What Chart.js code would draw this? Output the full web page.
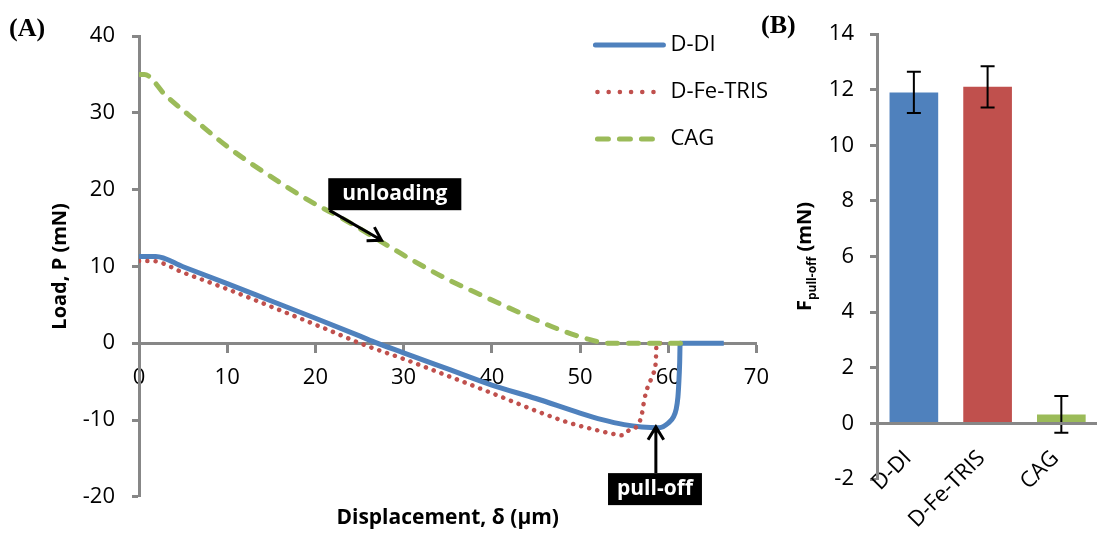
<!DOCTYPE html>
<html>
<head>
<meta charset="utf-8">
<script src="https://cdn.jsdelivr.net/npm/chart.js@4.4.1/dist/chart.umd.min.js"></script>
<style>
    html, body { margin: 0; padding: 0; background: #fff; }
    #wrap { position: relative; width: 1097px; height: 543px; overflow: hidden; }
    #loadChart { position: absolute; left: 0; top: 0; }
    #pullChart { position: absolute; left: 770px; top: 0; }
    .panel { position: absolute; font-family: 'Liberation Serif', serif; font-weight: bold; font-size: 26px; line-height: 1; }
</style>
</head>
<body>
<div id="wrap">
    <canvas id="loadChart" width="782" height="543"></canvas>
    <canvas id="pullChart" width="332" height="543"></canvas>
    <div class="panel" style="left:9px; top:15px;">(A)</div>
    <div class="panel" style="left:761px; top:12px;">(B)</div>
</div>
<script>
// 加载-位移曲线 (A)
const ddiX = [0, 1.9, 5, 10, 15, 20, 25, 27, 30, 35, 40, 45, 50, 52.5, 55, 57, 59, 60.0, 60.6, 60.9, 61.1, 61.2, 61.3, 61.35, 63, 66.3];
const ddiY = [11.3, 11.3, 9.95, 7.75, 5.5, 3.25, 0.95, 0.0, -1.25, -3.35, -5.45, -7.2, -9.1, -9.95, -10.6, -10.9, -11.0, -10.4, -9.6, -8.6, -7.0, -5.2, -2.5, 0, 0, 0];

const feTrisX = [0, 1.5, 5, 10, 15, 21, 25.5, 30, 35, 40, 45, 48.6, 51.8, 53.7, 54.7, 55.6, 56.6, 57.0, 57.3, 57.7, 58.3, 58.6, 58.65, 58.7, 60];
const feTrisY = [10.7, 10.7, 9.2, 7.05, 4.75, 1.94, -0.2, -2.05, -4.25, -6.5, -8.8, -10.3, -11.3, -11.8, -12.0, -11.3, -10.6, -9.3, -7.3, -5.6, -4.0, -2.2, -0.6, 0, 0];

const cagX = [0, 0.6, 3, 6.5, 10.25, 14.8, 19.4, 23.5, 28.5, 30.4, 34.5, 39.1, 44.1, 47.8, 51.25, 53.2, 62.6];
const cagY = [35, 35, 32.3, 28.9, 25.4, 21.8, 18.5, 15.95, 12.5, 11.2, 8.6, 6.1, 3.5, 1.72, 0.43, 0, 0];

const lineNames = ['D-DI', 'D-Fe-TRIS', 'CAG'];
const loadRange = [-20, 40, 10];      // min, max, step
const dispRange = [0, 70, 10];

// 脱附力柱状图 (B)
const barLabels = ['D-DI', 'D-Fe-TRIS', 'CAG'];
const pullOff = [11.9, 12.1, 0.32];
const pullOffErr = [0.74, 0.74, 0.66];
const pullRange = [-2, 14, 2];

const axisGrey = '#878787';
const seriesColors = ['#4F81BD', '#C0504D', '#9BBB59'];
const baseFont = 'Open Sans';

document.addEventListener('DOMContentLoaded', function() {
    initLoadChart();
    initPullChart();
});

function toPoints(xs, ys) {
    return xs.map((x, i) => ({ x: x, y: ys[i] }));
}

// 图内图例：直接画线型
const lineLegend = {
    id: 'lineLegend',
    afterDraw(chart) {
        const ctx = chart.ctx;
        const area = chart.chartArea;
        chart.data.datasets.forEach((ds, i) => {
            const y = area.top + 9 + i * 47;
            const dashed = ds.legendDash.length > 0;
            // 虚线端点留出圆头的宽度
            const x0 = area.right - (dashed ? 159 : 161);
            const x1 = area.right - (dashed ? 100 : 93);
            ctx.save();
            ctx.strokeStyle = ds.borderColor;
            ctx.lineWidth = ds.borderWidth;
            ctx.lineCap = 'round';
            ctx.setLineDash(ds.legendDash);
            ctx.beginPath();
            ctx.moveTo(x0, y);
            ctx.lineTo(x1, y);
            ctx.stroke();
            ctx.setLineDash([]);
            ctx.fillStyle = '#000';
            ctx.font = '22px "' + baseFont + '"';
            ctx.textBaseline = 'middle';
            ctx.fillText(ds.label, area.right - 86, y);
            ctx.restore();
        });
    }
};

// 黑底白字标注 + 箭头
const arrowNotes = {
    id: 'arrowNotes',
    afterDraw(chart, args, opts) {
        const ctx = chart.ctx;
        const sx = chart.scales.x;
        const sy = chart.scales.y;
        opts.notes.forEach(n => {
            const bx = sx.getPixelForValue(n.box[0]);
            const by = sy.getPixelForValue(n.box[1]);
            const fx = sx.getPixelForValue(n.from[0]);
            const fy = sy.getPixelForValue(n.from[1]);
            const tx = sx.getPixelForValue(n.to[0]);
            const ty = sy.getPixelForValue(n.to[1]);
            ctx.save();
            // 箭头
            ctx.strokeStyle = '#000';
            ctx.lineWidth = 3;
            ctx.beginPath();
            ctx.moveTo(fx, fy);
            ctx.lineTo(tx, ty);
            const ang = Math.atan2(ty - fy, tx - fx);
            const head = 15;
            ctx.moveTo(tx - head * Math.cos(ang - 0.55), ty - head * Math.sin(ang - 0.55));
            ctx.lineTo(tx, ty);
            ctx.lineTo(tx - head * Math.cos(ang + 0.55), ty - head * Math.sin(ang + 0.55));
            ctx.stroke();
            // 文字框
            ctx.font = 'bold 21px "' + baseFont + '"';
            const w = ctx.measureText(n.text).width + n.pad * 2;
            const h = 32;
            ctx.fillStyle = '#000';
            ctx.fillRect(bx - w / 2, by - h / 2, w, h);
            ctx.fillStyle = '#fff';
            ctx.textAlign = 'center';
            ctx.textBaseline = 'middle';
            ctx.fillText(n.text, bx, by);
            ctx.restore();
        });
    }
};

function initLoadChart() {
    const ctx = document.getElementById('loadChart').getContext('2d');
    const tickFont = { family: baseFont, size: 22 };

    const datasets = [
        {
            label: lineNames[0],
            data: toPoints(ddiX, ddiY),
            borderColor: seriesColors[0],
            borderWidth: 5,
            legendDash: [],
            order: 3
        },
        {
            label: lineNames[1],
            data: toPoints(feTrisX, feTrisY),
            borderColor: seriesColors[1],
            borderWidth: 4.5,
            borderDash: [0.1, 8.2],
            borderCapStyle: 'round',
            legendDash: [0.1, 11.1],
            order: 2
        },
        {
            label: lineNames[2],
            data: toPoints(cagX, cagY),
            borderColor: seriesColors[2],
            borderWidth: 5,
            borderDash: [10, 11],
            borderCapStyle: 'round',
            legendDash: [11, 11],
            order: 1
        }
    ];
    datasets.forEach(ds => {
        ds.pointRadius = 0;
        ds.fill = false;
        ds.cubicInterpolationMode = 'monotone';
    });

    new Chart(ctx, {
        type: 'line',
        data: { datasets: datasets },
        options: {
            responsive: false,
            animation: false,
            devicePixelRatio: 1,
            layout: { padding: { left: 0, right: 0, top: 36, bottom: 0 } },
            scales: {
                x: {
                    type: 'linear',
                    position: { y: 0 },
                    min: dispRange[0],
                    max: dispRange[1],
                    ticks: { stepSize: dispRange[2], color: '#000', font: tickFont, padding: 13 },
                    grid: { drawOnChartArea: false, tickLength: 8, tickWidth: 3, tickColor: axisGrey },
                    border: { color: axisGrey, width: 3 }
                },
                y: {
                    min: loadRange[0],
                    max: loadRange[1],
                    ticks: { stepSize: loadRange[2], color: '#000', font: tickFont, padding: 17 },
                    grid: { drawOnChartArea: false, tickLength: 7, tickWidth: 3, tickColor: axisGrey },
                    border: { color: axisGrey, width: 3 },
                    title: {
                        display: true,
                        text: 'Load, P (mN)',
                        color: '#000',
                        font: { family: baseFont, size: 20, weight: 'bold' },
                        padding: { top: 48, bottom: 0 }
                    },
                    afterFit(scale) { scale.width = 139; }
                }
            },
            plugins: {
                legend: { display: false },
                tooltip: { enabled: false },
                title: {
                    display: true,
                    position: 'bottom',
                    fullSize: false,
                    text: 'Displacement, δ (µm)',
                    color: '#000',
                    font: { family: baseFont, size: 21, weight: 'bold' },
                    padding: { top: 9, bottom: 12 }
                },
                arrowNotes: {
                    notes: [
                        { text: 'unloading', box: [29.0, 19.4], from: [21.6, 17.3], to: [27.5, 13.4], pad: 14 },
                        { text: 'pull-off', box: [58.5, -19.0], from: [58.6, -16.9], to: [58.6, -10.9], pad: 9 }
                    ]
                }
            }
        },
        plugins: [lineLegend, arrowNotes]
    });
}

// 误差棒
const errorBars = {
    id: 'errorBars',
    afterDatasetsDraw(chart) {
        const ctx = chart.ctx;
        const sy = chart.scales.y;
        const meta = chart.getDatasetMeta(0);
        const ds = chart.data.datasets[0];
        ctx.save();
        ctx.strokeStyle = '#000';
        ctx.lineWidth = 2;
        meta.data.forEach((bar, i) => {
            const v = ds.data[i];
            const e = ds.errors[i];
            const yHi = sy.getPixelForValue(v + e);
            const yLo = sy.getPixelForValue(v - e);
            const x = bar.x;
            ctx.beginPath();
            ctx.moveTo(x, yHi);
            ctx.lineTo(x, yLo);
            ctx.moveTo(x - 7, yHi);
            ctx.lineTo(x + 7, yHi);
            ctx.moveTo(x - 7, yLo);
            ctx.lineTo(x + 7, yLo);
            ctx.stroke();
        });
        ctx.restore();
    }
};

// 带下标的纵轴标题
const subTitle = {
    id: 'subTitle',
    afterDraw(chart) {
        const ctx = chart.ctx;
        const area = chart.chartArea;
        const big = 'bold 20px "' + baseFont + '"';
        const small = 'bold 12px "' + baseFont + '"';
        ctx.save();
        ctx.translate(35, (area.top + area.bottom) / 2);
        ctx.rotate(-Math.PI / 2);
        ctx.fillStyle = '#000';
        ctx.textBaseline = 'middle';
        ctx.font = big;
        const wF = ctx.measureText('F').width;
        const wRest = ctx.measureText(' (mN)').width;
        ctx.font = small;
        const wSub = ctx.measureText('pull-off').width;
        let x = -(wF + wSub + wRest) / 2;
        ctx.font = big;
        ctx.fillText('F', x, 0);
        x += wF;
        ctx.font = small;
        ctx.fillText('pull-off', x, 8);
        x += wSub;
        ctx.font = big;
        ctx.fillText(' (mN)', x, 0);
        ctx.restore();
    }
};

function initPullChart() {
    const ctx = document.getElementById('pullChart').getContext('2d');
    const tickFont = { family: baseFont, size: 22 };

    new Chart(ctx, {
        type: 'bar',
        data: {
            labels: barLabels,
            datasets: [{
                data: pullOff,
                errors: pullOffErr,
                backgroundColor: seriesColors,
                barPercentage: 0.66,
                categoryPercentage: 1
            }]
        },
        options: {
            responsive: false,
            animation: false,
            devicePixelRatio: 1,
            layout: { padding: { left: 0, right: 0, top: 34, bottom: 64 } },
            scales: {
                x: {
                    position: { y: 0 },
                    grid: { display: false, drawTicks: false },
                    border: { color: axisGrey, width: 3, z: 1 },
                    ticks: { color: '#000', font: tickFont, minRotation: 45, maxRotation: 45, padding: 22, labelOffset: -6 }
                },
                y: {
                    min: pullRange[0],
                    max: pullRange[1],
                    ticks: { stepSize: pullRange[2], color: '#000', font: tickFont, padding: 16 },
                    grid: { drawOnChartArea: false, tickLength: 7, tickWidth: 3, tickColor: axisGrey },
                    border: { color: axisGrey, width: 3 },
                    afterFit(scale) { scale.width = 107; }
                }
            },
            plugins: {
                legend: { display: false },
                tooltip: { enabled: false }
            }
        },
        plugins: [errorBars, subTitle]
    });
}
</script>
</body>
</html>
